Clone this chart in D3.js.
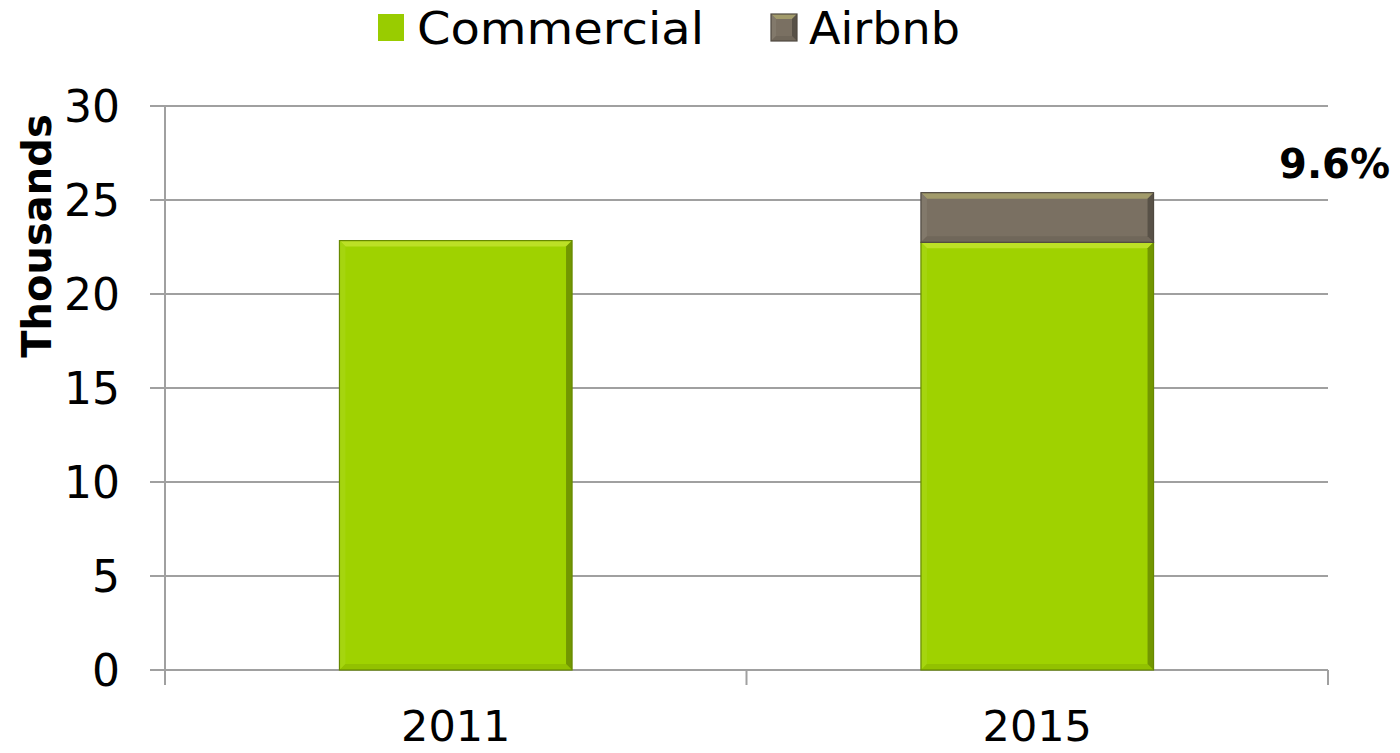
<!DOCTYPE html>
<html><head><meta charset="utf-8">
<script src="https://cdn.jsdelivr.net/npm/d3@7/dist/d3.min.js"></script>
<style>
html,body{margin:0;padding:0;background:#fff;}
svg{display:block;}
text{font-family:"DejaVu Sans",sans-serif;}
</style></head>
<body>
<svg id="chart" width="1400" height="753"></svg>
<script>
const categories = ["2011", "2015"];
const seriesNames = ["Commercial", "Airbnb"];
const commercial = [22.84, 22.75];
const airbnb = [0, 2.64];
const yTicks = [0, 5, 10, 15, 20, 25, 30];
const annotation = "9.6%";
const yTitle = "Thousands";

const colors = {Commercial: "#9fd200", Airbnb: "#7a7062"};

const svg = d3.select("#chart");
const plotLeft = 165, plotRight = 1328, plotTop = 106, plotBottom = 670;

const x = d3.scaleBand().domain(categories).range([plotLeft, plotRight]).paddingInner(0.6).paddingOuter(0.3);
const y = d3.scaleLinear().domain([0, 30]).range([plotBottom, plotTop]);

// gridlines
svg.append("g").selectAll("line").data(yTicks).join("line")
  .attr("x1", plotLeft - 15).attr("x2", plotRight)
  .attr("y1", d => y(d)).attr("y2", d => y(d))
  .attr("stroke", "#a0a0a0").attr("stroke-width", 2);

// y axis line
svg.append("line").attr("x1", plotLeft).attr("x2", plotLeft).attr("y1", y(30)).attr("y2", y(0))
  .attr("stroke", "#a0a0a0").attr("stroke-width", 2);

// x ticks at band boundaries
const xb = [plotLeft, ...categories.slice(1).map(c => x(c) - x.step() * x.paddingInner() / 2), plotRight];
svg.append("g").selectAll("line").data(xb).join("line")
  .attr("x1", d => d).attr("x2", d => d).attr("y1", y(0)).attr("y2", y(0) + 15)
  .attr("stroke", "#a0a0a0").attr("stroke-width", 2);

// y tick labels
svg.append("g").selectAll("text").data(yTicks).join("text")
  .attr("x", 120).attr("y", d => y(d)).attr("dy", "0.36em")
  .attr("text-anchor", "end").attr("font-size", 44).attr("fill", "#000")
  .text(d => d);

// x labels
svg.append("g").selectAll("text").data(categories).join("text")
  .attr("x", d => x(d) + x.bandwidth() / 2).attr("y", 741)
  .attr("text-anchor", "middle").attr("font-size", 43).attr("fill", "#000")
  .text(d => d);

// y title
svg.append("text").attr("transform", `translate(51,236) rotate(-90)`)
  .attr("text-anchor", "middle").attr("font-size", 40).attr("font-weight", "bold")
  .text(yTitle);

function bevel(g, x0, y0, w, h, base, b) {
  const light = d3.interpolateRgb(base, "#ffff80")(0.3);
  const light2 = d3.interpolateRgb(base, "#ffffff")(0.06);
  const dark = d3.interpolateRgb(base, "#000000")(0.28);
  const dark2 = d3.interpolateRgb(base, "#000000")(0.08);
  g.append("rect").attr("x", x0).attr("y", y0).attr("width", w).attr("height", h).attr("fill", base);
  const poly = (pts, fill) => g.append("polygon").attr("points", pts.map(p => p.join(",")).join(" ")).attr("fill", fill);
  poly([[x0, y0], [x0 + w, y0], [x0 + w - b, y0 + b], [x0 + b, y0 + b]], light);
  poly([[x0, y0], [x0 + b, y0 + b], [x0 + b, y0 + h - b], [x0, y0 + h]], light2);
  poly([[x0, y0 + h], [x0 + b, y0 + h - b], [x0 + w - b, y0 + h - b], [x0 + w, y0 + h]], dark2);
  poly([[x0 + w, y0], [x0 + w, y0 + h], [x0 + w - b, y0 + h - b], [x0 + w - b, y0 + b]], dark);
  g.append("rect").attr("x", x0).attr("y", y0).attr("width", w).attr("height", h)
    .attr("fill", "none").attr("stroke", d3.interpolateRgb(base, "#000000")(0.35)).attr("stroke-width", 1.2);
}

const bars = svg.append("g");
categories.forEach((cat, i) => {
  const vals = [commercial[i], airbnb[i]];
  let acc = 0;
  seriesNames.forEach((s, j) => {
    const v = vals[j];
    if (v <= 0) return;
    const y0 = y(acc + v), y1 = y(acc);
    bevel(bars, x(cat), y0, x.bandwidth(), y1 - y0, colors[s], 6);
    acc += v;
  });
});

// annotation
svg.append("text").attr("x", 1390).attr("y", 178).attr("text-anchor", "end")
  .attr("font-size", 40).attr("font-weight", "bold").text(annotation);

// legend
const leg = svg.append("g");
const legendItems = [
  {name: "Commercial", sx: 378, tx: 417, len: 287},
  {name: "Airbnb", sx: 771, tx: 809, len: 151}
];
legendItems.forEach((it, i) => {
  if (i === 0) {
    leg.append("rect").attr("x", it.sx).attr("y", 14).attr("width", 26).attr("height", 27).attr("fill", "#99cc00");
  } else {
    bevel(leg, it.sx, 14, 26, 27, colors.Airbnb, 5);
  }
  leg.append("text").attr("x", it.tx).attr("y", 44).attr("font-size", 45)
    .attr("textLength", it.len).attr("lengthAdjust", "spacingAndGlyphs").text(it.name);
});
</script>
</body></html>
